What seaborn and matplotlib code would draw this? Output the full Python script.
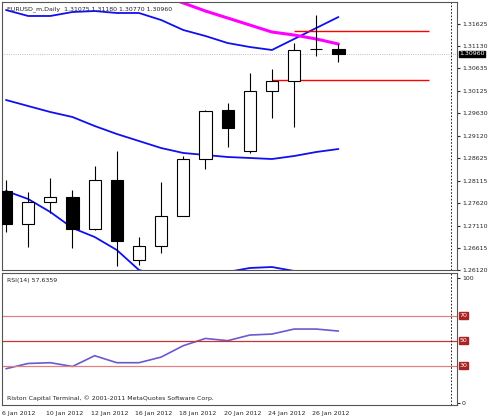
import numpy as np
import pandas as pd
import seaborn as sns
import matplotlib.pyplot as plt

# daily bars, EURUSD
dates = ["6 Jan", "9 Jan", "10 Jan", "11 Jan", "12 Jan", "13 Jan", "16 Jan", "17 Jan",
         "18 Jan", "19 Jan", "20 Jan", "23 Jan", "24 Jan", "25 Jan", "26 Jan", "27 Jan"]
opens  = [1.27888, 1.27143, 1.27635, 1.27762, 1.27040, 1.28125, 1.26344, 1.26657,
          1.27335, 1.28597, 1.29701, 1.28790, 1.30126, 1.30350, 1.31066, 1.31075]
highs  = [1.28134, 1.27859, 1.28172, 1.27910, 1.28448, 1.28789, 1.26865, 1.28080,
          1.28671, 1.29700, 1.29865, 1.30522, 1.30618, 1.31207, 1.31827, 1.31180]
lows   = [1.26970, 1.26642, 1.27396, 1.26605, 1.27015, 1.26215, 1.26232, 1.26493,
          1.28550, 1.28374, 1.28866, 1.28738, 1.29528, 1.29311, 1.30910, 1.30770]
closes = [1.27150, 1.27635, 1.27762, 1.27040, 1.28125, 1.26770, 1.26664, 1.27335,
          1.28597, 1.29678, 1.29291, 1.30126, 1.30350, 1.31044, 1.31070, 1.30960]

bb_upper = [1.31939, 1.31805, 1.31805, 1.31894, 1.31916, 1.31872, 1.31872, 1.31715,
            1.31491, 1.31357, 1.31200, 1.31111, 1.31044, 1.31290, 1.31536, 1.31782]
bb_mid   = [1.29925, 1.29790, 1.29656, 1.29544, 1.29343, 1.29164, 1.29007, 1.28850,
            1.28739, 1.28694, 1.28649, 1.28627, 1.28604, 1.28671, 1.28761, 1.28828]
bb_lower = [1.27888, 1.27709, 1.27418, 1.27060, 1.26859, 1.26568, 1.26120, 1.25986,
            1.25896, 1.25941, 1.26075, 1.26165, 1.26187, 1.26098, 1.25941, 1.25807]
ma_bars  = [7, 8, 9, 10, 11, 12, 13, 14, 15]
ma_vals  = [1.32275, 1.32096, 1.31916, 1.31760, 1.31603, 1.31446, 1.31379, 1.31290, 1.31178]
rsi      = [27.5, 31.7, 32.3, 29.3, 37.9, 32.3, 32.3, 36.8, 45.9, 51.7, 49.9, 54.4,
            55.2, 59.2, 59.2, 57.6]
price_ticks = [1.31625, 1.31130, 1.30635, 1.30125, 1.29630, 1.29120, 1.28625,
               1.28115, 1.27620, 1.27110, 1.26615, 1.26120]
res_level, sup_level = 1.31469, 1.30365
last_price = 1.30960

df = pd.DataFrame({"bar": np.arange(len(dates)), "open": opens, "high": highs, "low": lows,
                   "close": closes, "up": bb_upper, "mid": bb_mid, "lo": bb_lower, "rsi": rsi})

sns.set_style("white")
plt.rcParams['font.family'] = ['DejaVu Sans']
fs = 4.5
fig = plt.figure(figsize=(4.9, 4.2), dpi=100)
W = 455 / 490
ax = fig.add_axes([2/490, 1-270/420, W, 268/420])
ax2 = fig.add_axes([2/490, 1-405/420, W, 132/420])
xlim = (-0.18, 20.35)

# bollinger + ma
for col in ["up", "mid", "lo"]:
    sns.lineplot(data=df, x="bar", y=col, ax=ax, color="#1010ee", lw=1.3)
sns.lineplot(x=ma_bars, y=ma_vals, ax=ax, color="#ff00ff", lw=2.2)

# candles
for _, r in df.iterrows():
    ax.vlines(r.bar, r.low, r.high, color="black", lw=0.8, zorder=3)
    lo_b, hi_b = min(r.open, r.close), max(r.open, r.close)
    fc = "black" if r.close < r.open else "white"
    ax.bar(r.bar, max(hi_b - lo_b, 0.00005), bottom=lo_b, width=0.55, color=fc,
           edgecolor="black", lw=0.8, zorder=4)

ax.hlines(res_level, 13, 19.1, color="#ff0000", lw=1)
ax.hlines(sup_level, 12, 19.1, color="#ff0000", lw=1)
ax.axhline(last_price, color="#aaaaaa", lw=0.6, ls=":")
ax.axvline(20.1, color="black", lw=0.6, ls=(0, (2, 2)))
ax.set_xlim(xlim)
ax.set_ylim(1.26120, 1.32118)
ax.set_xticks([])
ax.yaxis.tick_right()
ax.set_yticks(price_ticks)
ax.set_yticklabels([f"{t:.5f}" for t in price_ticks], fontsize=fs)
ax.tick_params(axis="y", length=2, pad=1.5)
ax.text(20.45, last_price, f"{last_price:.5f}", fontsize=fs, color="white",
        va="center", ha="left", bbox=dict(fc="black", ec="black", pad=0.5))
ax.text(0.01, 0.985, "EURUSD_m,Daily  1.31075 1.31180 1.30770 1.30960", transform=ax.transAxes,
        fontsize=fs, va="top")
ax.set_xlabel(""); ax.set_ylabel("")

# rsi
sns.lineplot(data=df, x="bar", y="rsi", ax=ax2, color="#6a5acd", lw=1.2)
for lv in [70, 50, 30]:
    ax2.axhline(lv, color="#cc3333" if lv == 50 else "#e08080", lw=0.9)
    ax2.text(20.45, lv, str(lv), fontsize=fs, color="white", va="center", ha="left",
             bbox=dict(fc="#aa2222", ec="#aa2222", pad=0.5))
ax2.axvline(20.1, color="black", lw=0.6, ls=(0, (2, 2)))
ax2.set_xlim(xlim)
ax2.set_ylim(-1.5, 104)
ax2.yaxis.tick_right()
ax2.set_yticks([0, 100])
ax2.set_yticklabels(["0", "100"], fontsize=fs)
ax2.tick_params(axis="y", length=2, pad=1.5)
ax2.set_xticks(np.arange(0, 16, 2) - 0.18)
ax2.set_xticklabels([d + " 2012" for d in dates[::2]], fontsize=fs, ha="left")
ax2.tick_params(axis="x", length=3, pad=1)
ax2.set_xlabel(""); ax2.set_ylabel("")
ax2.text(0.01, 0.96, "RSI(14) 57.6359", transform=ax2.transAxes, fontsize=fs, va="top")
ax2.text(0.01, 0.03, "Riston Capital Terminal, © 2001-2011 MetaQuotes Software Corp.",
         transform=ax2.transAxes, fontsize=fs, va="bottom")

for a in (ax, ax2):
    for s in a.spines.values():
        s.set_color("#555555"); s.set_linewidth(0.8)

fig.savefig("out.png", dpi=100)
